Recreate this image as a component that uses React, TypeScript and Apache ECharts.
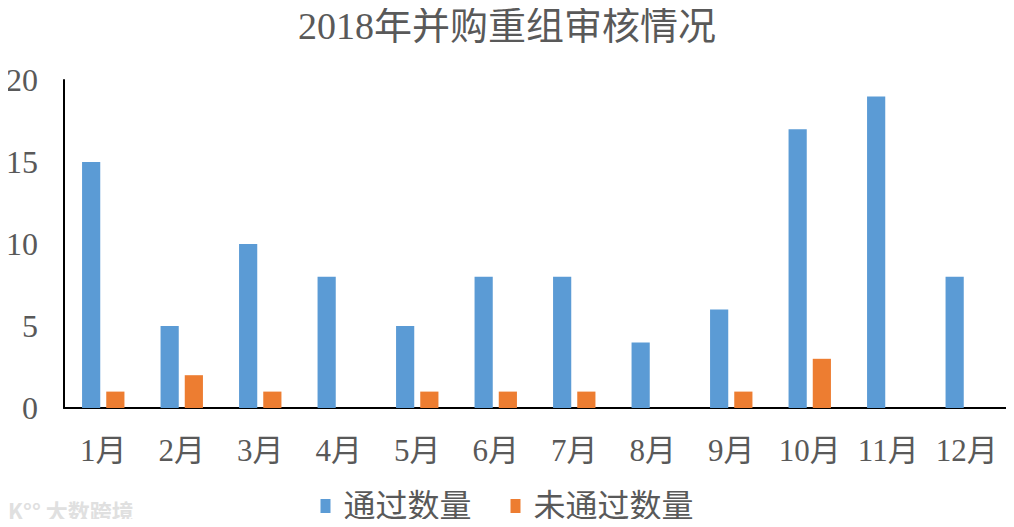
import React, { useEffect, useRef } from "react";
import * as echarts from "echarts";

const categories = ["1月", "2月", "3月", "4月", "5月", "6月", "7月", "8月", "9月", "10月", "11月", "12月"];
const passed = [15, 5, 10, 8, 5, 8, 8, 4, 6, 17, 19, 8];
const failed = [1, 2, 1, 0, 1, 1, 1, 0, 1, 3, 0, 0];
const seriesNames = ["通过数量", "未通过数量"];
const titleText = "2018年并购重组审核情况";

const FONT = "'Liberation Serif', 'Noto Sans CJK SC', serif";
const TEXT = "#595959";

export default function App() {
  const ref = useRef<HTMLDivElement>(null);
  useEffect(() => {
    if (!ref.current) return;
    const chart = echarts.init(ref.current, undefined, { renderer: "svg" });
    chart.setOption({
      animation: false,
      backgroundColor: "#ffffff",
      title: {
        text: titleText,
        left: "center",
        top: 2,
        textStyle: { fontFamily: FONT, fontSize: 38, fontWeight: "normal", color: TEXT },
      },
      legend: {
        data: seriesNames,
        bottom: 0,
        left: "center",
        itemWidth: 10,
        itemHeight: 14,
        itemGap: 39,
        icon: "rect",
        textStyle: { fontFamily: FONT, fontSize: 32, color: TEXT, padding: [0, 0, 0, 8] },
      },
      grid: { left: 64, right: 8, top: 80, bottom: 119, containLabel: false },
      xAxis: {
        type: "category",
        data: categories,
        axisLine: { lineStyle: { color: "#000", width: 2 } },
        axisTick: { show: false },
        axisLabel: { fontFamily: FONT, fontSize: 31, color: TEXT, margin: 27, interval: 0 },
      },
      yAxis: {
        type: "value",
        min: 0,
        max: 20,
        interval: 5,
        axisLine: { show: true, lineStyle: { color: "#000", width: 2 } },
        axisTick: { show: false },
        splitLine: { show: false },
        axisLabel: { fontFamily: FONT, fontSize: 32, color: TEXT, margin: 26 },
      },
      series: [
        {
          name: seriesNames[0],
          type: "bar",
          data: passed,
          itemStyle: { color: "#5b9bd5" },
          barGap: "33%",
          barCategoryGap: "46%",
        },
        {
          name: seriesNames[1],
          type: "bar",
          data: failed,
          itemStyle: { color: "#ed7d31" },
          barGap: "33%",
          barCategoryGap: "46%",
        },
      ],
      graphic: [
        {
          type: "text",
          left: 8,
          bottom: 6,
          style: {
            text: "K°° 大数跨境",
            fontFamily: "'Noto Sans CJK SC', sans-serif",
            fontSize: 22,
            fontWeight: "bold",
            fill: "#e0e0e0",
          },
        },
      ],
    });
    return () => chart.dispose();
  }, []);
  return <div ref={ref} style={{ width: 1014, height: 527, margin: -8 }} />;
}
